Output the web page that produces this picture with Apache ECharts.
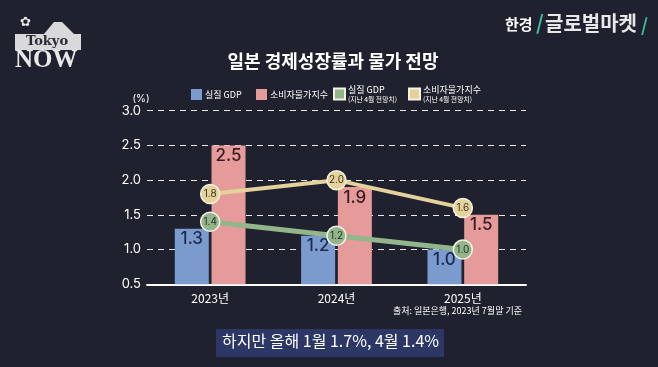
<!DOCTYPE html>
<html><head><meta charset="utf-8">
<script src="https://cdn.jsdelivr.net/npm/echarts@6/dist/echarts.min.js"></script>
<style>html,body{margin:0;padding:0;background:#1f222e;}#c{width:658px;height:367px;}</style>
</head><body><div id="c"></div>
<script>
const categories = ['2023년', '2024년', '2025년'];
const realGDP = [1.3, 1.2, 1.0];
const cpi = [2.5, 1.9, 1.5];
const realGDPApr = [1.4, 1.2, 1.0];
const cpiApr = [1.8, 2.0, 1.6];
const seriesNames = ['실질 GDP', '소비자물가지수', '실질 GDP\n(지난 4월 전망치)', '소비자물가지수\n(지난 4월 전망치)'];
const yTicks = [0.5, 1.0, 1.5, 2.0, 2.5, 3.0];

const chart = echarts.init(document.getElementById('c'));
const F = '"Noto Sans CJK KR", "Noto Sans", sans-serif';
const N = 'Inter, "Noto Sans", sans-serif';
const legendLefts = [186, 251, 328, 403];
const legends = seriesNames.map((n, i) => ({
  top: i < 2 ? 84 : 80, left: legendLefts[i], itemWidth: 11, itemHeight: 11, itemGap: 0,
  icon: 'rect', data: [n],
  formatter: function (s) {
    const p = s.split('\n');
    if (p.length > 1) return '{a|' + p[0] + '}\n{b|' + p[1] + '}';
    return '{a|' + s + '}';
  },
  textStyle: {
    color: '#ffffff', padding: [0, 0, 0, -2],
    rich: {
      a: {fontSize: 9, color: '#ffffff', lineHeight: 11, fontFamily: F},
      b: {fontSize: 6.8, color: '#ffffff', lineHeight: 9, fontFamily: F}
    }
  }
}));

chart.setOption({
  backgroundColor: '#1f222e',
  animation: false,
  textStyle: {fontFamily: F},
  title: {
    text: '일본 경제성장률과 물가 전망', left: 328, top: 47, textAlign: 'center',
    textStyle: {color: '#ffffff', fontSize: 18, fontWeight: 'bold', fontFamily: F}
  },
  legend: legends,
  grid: {left: 147, right: 132, top: 110.7, bottom: 82.7},
  xAxis: {
    type: 'category', data: categories,
    axisLine: {show: true, lineStyle: {color: '#ffffff', width: 2}},
    axisTick: {show: false},
    axisLabel: {color: '#ffffff', fontSize: 12, margin: 8, fontFamily: F}
  },
  yAxis: {
    type: 'value', min: 0.5, max: 3.0, interval: 0.5,
    name: '(%)', nameLocation: 'end', nameGap: 7,
    nameTextStyle: {color: '#ffffff', fontSize: 10, align: 'center', padding: [0, 0, 0, -12], fontFamily: N},
    axisLine: {show: false}, axisTick: {show: false},
    axisLabel: {color: '#ffffff', fontSize: 13, margin: 6, fontFamily: N, formatter: v => v.toFixed(1)},
    splitLine: {lineStyle: {color: '#e8e8ee', type: [6, 5], width: 1}}
  },
  series: [
    {
      name: seriesNames[0], type: 'bar', data: realGDP, barWidth: 34, barGap: '8%',
      itemStyle: {color: '#7b9bcf'},
      label: {show: true, position: 'insideTop', distance: 2, color: '#1d2a4d', fontSize: 17, fontWeight: 500, fontFamily: N, formatter: p => p.value.toFixed(1)}
    },
    {
      name: seriesNames[1], type: 'bar', data: cpi, barWidth: 34,
      itemStyle: {color: '#e49b99'},
      label: {show: true, position: 'insideTop', distance: 2, color: '#3a1c22', fontSize: 17, fontWeight: 500, fontFamily: N, formatter: p => p.value.toFixed(1)}
    },
    {
      name: seriesNames[2], type: 'line', data: realGDPApr, symbol: 'circle', symbolSize: 19,
      lineStyle: {color: '#93b58c', width: 5},
      itemStyle: {color: '#93b58c', borderColor: '#f4f1e4', borderWidth: 1.5},
      label: {show: true, position: 'inside', color: '#26331f', fontSize: 10, fontFamily: N, formatter: p => p.value.toFixed(1)},
      z: 5
    },
    {
      name: seriesNames[3], type: 'line', data: cpiApr, symbol: 'circle', symbolSize: 19,
      lineStyle: {color: '#e5d29b', width: 4},
      itemStyle: {color: '#e5d29b', borderColor: '#f4f1e4', borderWidth: 1.5},
      label: {show: true, position: 'inside', color: '#3b3320', fontSize: 10, fontFamily: N, formatter: p => p.value.toFixed(1)},
      z: 6
    }
  ],
  graphic: [
    {type: 'text', right: 136, top: 306, style: {text: '출처: 일본은행, 2023년 7월말 기준', fill: '#ffffff', fontSize: 9, fontFamily: F}},
    {type: 'rect', shape: {x: 216, y: 329, width: 228, height: 28}, style: {fill: '#2c3766'}},
    {type: 'text', left: 222, top: 333, style: {text: '하지만 올해 1월 1.7%, 4월 1.4%', fill: '#ffffff', fontSize: 16, fontFamily: F}},
    // Tokyo NOW logo
    {type: 'rect', shape: {x: 15, y: 34, width: 66, height: 16}, style: {fill: '#d9d9db'}},
    {type: 'polygon', shape: {points: [[44, 34], [54, 22], [62, 22], [74, 34]]}, style: {fill: '#d9d9db'}},
    {type: 'text', left: 26, top: 35, style: {text: 'Tokyo', fill: '#2a2a33', fontSize: 13, fontWeight: 'bold', fontFamily: '"DejaVu Serif", serif'}},
    {type: 'text', left: 15, top: 48, style: {text: 'NOW', fill: '#e8e8ea', fontSize: 25, fontWeight: 'bold', fontFamily: '"Liberation Serif", serif'}},
    {type: 'text', left: 20, top: 16, style: {text: '✿', fill: '#e8e8ea', fontSize: 13}},
    // 한경 글로벌마켓 logo
    {type: 'text', left: 505, top: 17, style: {text: '한경', fill: '#ffffff', fontSize: 15, fontWeight: 'bold', fontFamily: F}},
    {type: 'text', left: 536, top: 12, style: {text: '/', fill: '#3fbf9f', fontSize: 20, fontWeight: 'bold', fontFamily: F}},
    {type: 'text', left: 545, top: 13, style: {text: '글로벌마켓', fill: '#e8e8ea', fontSize: 20, fontWeight: 'bold', fontFamily: F}},
    {type: 'text', left: 641, top: 16, style: {text: '/', fill: '#3fbf9f', fontSize: 18, fontWeight: 'bold', fontFamily: F}}
  ]
});
</script></body></html>
